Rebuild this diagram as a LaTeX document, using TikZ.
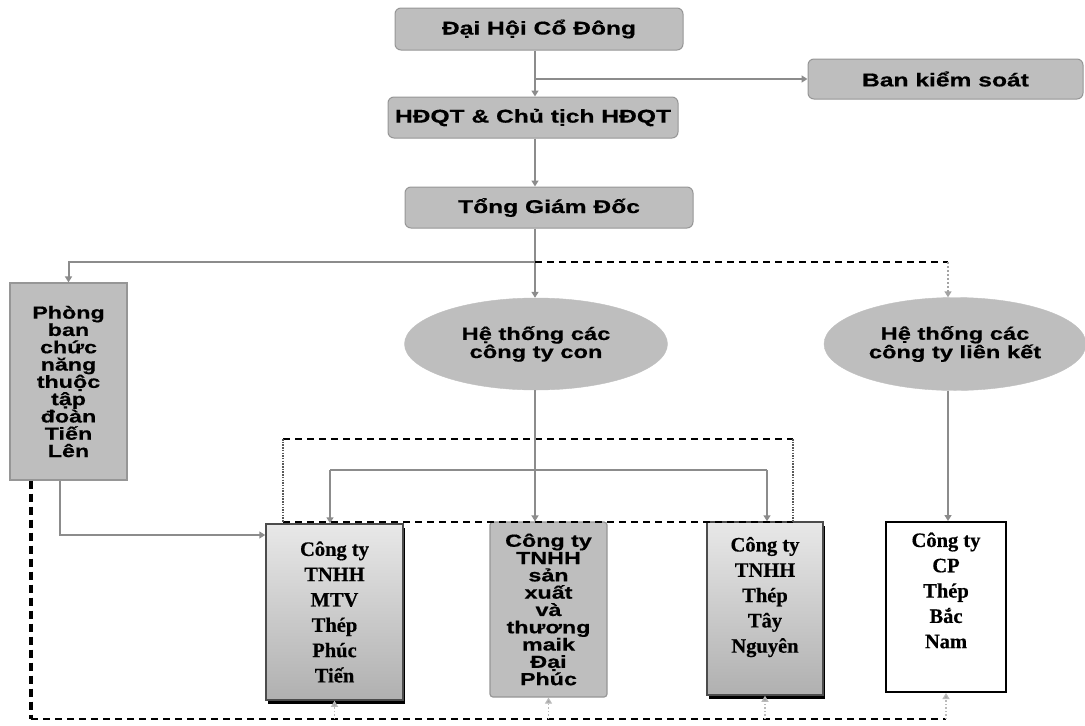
\documentclass[tikz,border=0pt]{standalone}
\usepackage{fontspec}
\usetikzlibrary{arrows.meta,shapes.geometric,shadows,calc}
\newfontfamily\hv[FakeStretch=1.33,FakeBold=0.6]{Liberation Sans}
\newfontfamily\tms[FakeBold=0.5]{Liberation Serif}
\definecolor{boxgray}{RGB}{190,190,190}
\definecolor{linegray}{RGB}{140,140,140}
\definecolor{edgegray}{RGB}{150,150,150}
\begin{document}
\begin{tikzpicture}[x=1pt,y=-1pt,
  hvfont/.style={font=\hv\bfseries\fontsize{17.5}{17.3}\selectfont},
  topbox/.style={draw=edgegray, line width=1pt, fill=boxgray, rounded corners=6pt, inner sep=0pt,
     font=\hv\bfseries\fontsize{18.5}{18}\selectfont},
  sidebox/.style={draw=edgegray, line width=1.2pt, fill=boxgray, inner sep=0pt, align=center, hvfont},
  oval/.style={ellipse, draw=boxgray, fill=boxgray, inner sep=0pt, align=center, font=\hv\bfseries\fontsize{17.8}{16}\selectfont},
  shadebox/.style={draw=black!70, line width=1.5pt, top color=gray!18, bottom color=gray!62, inner sep=0pt, align=center,
     general shadow={fill=black, shadow xshift=2pt, shadow yshift=-3.5pt},
     font=\tms\bfseries\fontsize{20.5}{25.3}\selectfont},
  whitebox/.style={draw=black, line width=2pt, fill=white, inner sep=0pt, align=center,
     font=\tms\bfseries\fontsize{20.5}{25.3}\selectfont},
  conn/.style={draw=linegray, line width=2pt, -{Triangle[length=6pt,width=7pt]}},
  plainline/.style={draw=linegray, line width=2pt},
  dashline/.style={draw=black, line width=1.5pt, dash pattern=on 7pt off 5pt},
  heavydash/.style={draw=black, line width=3.4pt, dash pattern=on 8pt off 5pt},
  dotside/.style={draw=black!65, line width=1.8pt, dash pattern=on 1.5pt off 1.2pt},
  dotconn/.style={draw=linegray!80, line width=1.5pt, dash pattern=on 2pt off 2pt, -{Triangle[length=6pt,width=7pt]}},
  uparrow/.style={draw=linegray!60, line width=1.2pt, dash pattern=on 1.5pt off 2pt, -{Triangle[length=6pt,width=7pt,fill=linegray!80]}}
]
\useasboundingbox (0,0) rectangle (1085,726);

% nodes
\node[topbox, minimum width=288pt, minimum height=42pt] (dh) at (539,29) {Đại Hội Cổ Đông};
\node[topbox, minimum width=275pt, minimum height=40pt] (bks) at (945.5,79) {Ban kiểm soát};
\node[topbox, minimum width=290pt, minimum height=41pt] (hd) at (533,117.5) {HĐQT \& Chủ tịch HĐQT};
\node[topbox, minimum width=288pt, minimum height=41pt] (tgd) at (549,207.5) {Tổng Giám Đốc};
\node[sidebox, minimum width=117pt, minimum height=197pt] (pb) at (68.5,381.5)
  {Phòng\\ban\\chức\\năng\\thuộc\\tập\\đoàn\\Tiến\\Lên};
\node[oval, minimum width=263pt, minimum height=92pt] (e1) at (536,344) {Hệ thống các\\công ty con};
\node[oval, minimum width=262pt, minimum height=93pt] (e2) at (955,344) {Hệ thống các\\công ty liên kết};
\node[shadebox, minimum width=137pt, minimum height=176pt] (c1) at (334.5,612)
  {Công ty\\TNHH\\MTV\\Thép\\Phúc\\Tiến};
\node[sidebox, rounded corners=3pt, minimum width=117pt, minimum height=175pt] (c2) at (548.5,609.5)
  {Công ty\\TNHH\\sản\\xuất\\và\\thương\\maik\\Đại\\Phúc};
\node[shadebox, minimum width=116pt, minimum height=173pt] (c3) at (765,608.5)
  {Công ty\\TNHH\\Thép\\Tây\\Nguyên\\[2pt]};
\node[whitebox, minimum width=120pt, minimum height=170pt] (c4) at (946,607)
  {Công ty\\CP\\Thép\\Bắc\\Nam\\[8pt]};

% coordinates
\coordinate (sp) at (535,262);
\coordinate (b1) at (535,79);
\coordinate (d2) at (948,262);
\coordinate (L1) at (330,470);
\coordinate (R1) at (767,470);
\coordinate (pv) at (60,535);
\coordinate (q1) at (31,719);
\coordinate (rtl) at (283,439);
\coordinate (rtr) at (793,439);
\coordinate (rbl) at (283,522);
\coordinate (rbr) at (793,522);

% dashed group rectangle
\draw[dashline] (rtl) -- (rtr);
\draw[dashline] (rbl) -- (rbr);
\draw[dotside] (rtl) -- (rbl);
\draw[dotside] (rtr) -- (rbr);

% top chain
\draw[conn] (dh.south -| sp) -- (hd.north -| sp);
\draw[conn] (b1) -- (bks.west);
\draw[conn] (hd.south -| sp) -- (tgd.north -| sp);
\draw[plainline] (tgd.south -| sp) -- (sp);
\draw[conn] (sp) -- (e1.north -| sp);
\draw[conn] (sp) -| (pb.north);
\draw[dashline] (sp) -- (d2);
\draw[dotconn] (d2) -- (d2 |- e2.north);

% to companies
\draw[conn] (e1.south -| sp) -- (c2.north -| sp);
\draw[plainline] (L1) -- (R1);
\draw[conn] (L1) -- (L1 |- c1.north);
\draw[conn] (R1) -- (R1 |- c3.north);
\draw[conn] (e2.south -| d2) -- (c4.north -| d2);
\draw[conn] (pb.south -| pv) -- (pv) -- (pv -| c1.west);

% bottom dashed feedback
\draw[heavydash] (pb.south -| q1) -- (q1);
\draw[dashline] (q1) -- (q1 -| c4.south);
\draw[uparrow] (q1 -| c1.south) -- (c1.south);
\draw[uparrow] (q1 -| c2.south) -- (c2.south);
\draw[uparrow] (q1 -| c3.south) -- (c3.south);
\draw[uparrow] (q1 -| c4.south) -- (c4.south);
\end{tikzpicture}
\end{document}
